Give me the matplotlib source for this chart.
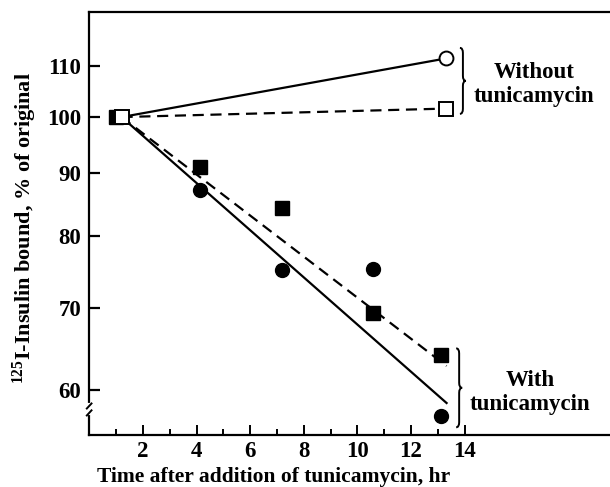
import numpy as np
import matplotlib
matplotlib.use("Agg")
import matplotlib.pyplot as plt
from matplotlib.path import Path
from matplotlib.patches import PathPatch
from matplotlib.ticker import FixedLocator, NullLocator, FixedFormatter

plt.rcParams["font.family"] = ["Liberation Serif", "DejaVu Serif"]
plt.rcParams["mathtext.fontset"] = "custom"
plt.rcParams["mathtext.rm"] = "Liberation Serif:bold"
plt.rcParams["mathtext.default"] = "rm"

# data
t_start = [1.0]
t_with = [4.13, 7.17, 10.6, 13.14]
sq_with = [91.1, 84.4, 69.3, 64.1]
circ_with = [87.3, 75.2, 75.3, 57.2]
t_without = [13.3]
circ_without = [111.6]
sq_without = [101.6]

# fitted lines (start, end)
fit_x = [1.2, 13.33]
fit_circ_with = [100, 58.6]
fit_sq_with = [100, 62.8]
fit_circ_without = [100, 111.6]
fit_sq_without = [100, 101.6]

y_ticks = [60, 70, 80, 90, 100, 110]
x_major = [2, 4, 6, 8, 10, 12, 14]
x_minor = [1, 3, 5, 7, 9, 11, 13]

fig = plt.figure(figsize=(6.1, 4.87), dpi=100)
ax = fig.add_axes([0.1466, 0.1068, 0.8534, 0.8686])
ax.set_yscale("log")
ax.set_xlim(0, 19.43)
ax.set_ylim(55.2, 121.7)

lw = 1.6
ax.plot(fit_x, fit_circ_with, "k-", lw=lw)
ax.plot(fit_x, fit_sq_with, "k--", lw=lw, dashes=(5, 3))
ax.plot(fit_x, fit_circ_without, "k-", lw=lw)
ax.plot(fit_x, fit_sq_without, "k--", lw=lw, dashes=(5, 3))

ax.plot(t_with, sq_with, "ks", ms=10.5, ls="none")
ax.plot(t_with, circ_with, "ko", ms=10, ls="none")
ax.plot(t_start, [100], "ks", ms=10, ls="none")
ax.plot([1.2], [100], "s", mfc="white", mec="k", mew=1.4, ms=9.5, ls="none")
ax.plot(t_without, circ_without, "o", mfc="white", mec="k", mew=1.4, ms=10, ls="none", clip_on=False)
ax.plot(t_without, sq_without, "s", mfc="white", mec="k", mew=1.4, ms=9.5, ls="none")

# spines
ax.spines["right"].set_visible(False)
for s in ["left", "bottom", "top"]:
    ax.spines[s].set_linewidth(1.6)

ax.yaxis.set_major_locator(FixedLocator(y_ticks))
ax.yaxis.set_major_formatter(FixedFormatter([str(v) for v in y_ticks]))
ax.yaxis.set_minor_locator(NullLocator())
ax.xaxis.set_major_locator(FixedLocator(x_major))
ax.xaxis.set_minor_locator(FixedLocator(x_minor))
ax.tick_params(axis="y", direction="in", length=8, width=1.6, labelsize=16.5, pad=6)
ax.tick_params(axis="x", which="major", direction="in", length=7, width=1.4, labelsize=16.5, pad=4)
ax.tick_params(axis="x", which="minor", direction="in", length=4, width=1.4)
for lab in ax.get_xticklabels() + ax.get_yticklabels():
    lab.set_fontweight("bold")

ax.set_xlabel("Time after addition of tunicamycin, hr", fontsize=15.5, fontweight="bold", ha="left")
ax.xaxis.set_label_coords(0.015, -0.075, transform=ax.transAxes)
ax.xaxis.label.set_va("top")
ax.set_ylabel("$^{125}$I-Insulin bound, % of original", fontsize=16, fontweight="bold")
ax.yaxis.set_label_coords(-0.097, 0.49)

# axis break mark on y axis
trans = ax.get_yaxis_transform()
ax.plot([0, 0], [57.5, 58.35], color="white", lw=3, transform=trans, clip_on=False, zorder=5)
ax.plot([-0.005, 0.004], [58.0, 58.55], color="k", lw=1.4, transform=trans, clip_on=False, zorder=6)
ax.plot([-0.005, 0.004], [57.25, 57.8], color="k", lw=1.4, transform=trans, clip_on=False, zorder=6)


def brace(x, y0, y1, w=6):
    # right-pointing curly brace drawn in pixel space then mapped to axes coords
    px0, py0 = ax.transData.transform((x, y0))
    _, py1 = ax.transData.transform((x, y1))
    pm = (py0 + py1) / 2
    r = 5
    pts = [(px0 - w / 2, py0), (px0, py0), (px0, py0 + r),
           (px0, pm - r), (px0, pm), (px0 + w / 2, pm),
           (px0, pm), (px0, pm + r),
           (px0, py1 - r), (px0, py1), (px0 - w / 2, py1)]
    codes = [Path.MOVETO, Path.CURVE3, Path.CURVE3,
             Path.LINETO, Path.CURVE3, Path.CURVE3,
             Path.CURVE3, Path.CURVE3,
             Path.LINETO, Path.CURVE3, Path.CURVE3]
    inv = ax.transAxes.inverted()
    pts = inv.transform(pts)
    ax.add_patch(PathPatch(Path(pts, codes), transform=ax.transAxes, fill=False,
                           lw=1.4, ec="k", clip_on=False))


brace(13.94, 100.6, 113.8)
brace(13.8, 56.0, 64.9)

ax.text(16.6, 106.3, "Without\ntunicamycin", ha="center", va="center",
        fontsize=16.5, fontweight="bold", linespacing=1.2)
ax.text(16.45, 59.8, "With\ntunicamycin", ha="center", va="center",
        fontsize=16.5, fontweight="bold", linespacing=1.2)

fig.savefig("out.png", dpi=100)
